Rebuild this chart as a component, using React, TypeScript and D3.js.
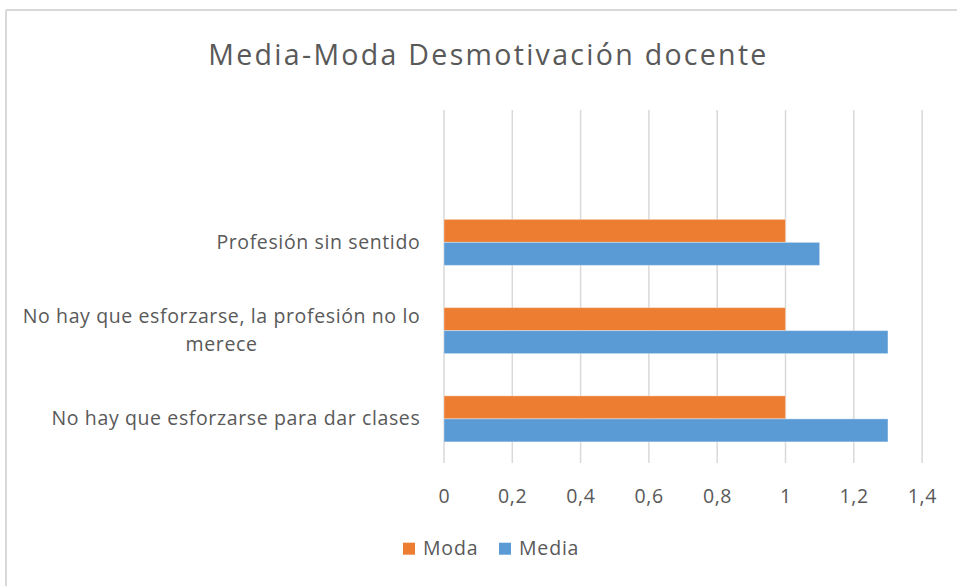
import React from "react";
import * as d3 from "d3";

const W = 957;
const H = 586;

const title = "Media-Moda Desmotivación docente";
// categories listed top to bottom (top slot is empty in the original)
const categories = [
  "",
  "Profesión sin sentido",
  "No hay que esforzarse, la profesión no lo merece",
  "No hay que esforzarse para dar clases",
];
const seriesNames = ["Moda", "Media"];
const modaValues: (number | null)[] = [null, 1, 1, 1];
const mediaValues: (number | null)[] = [null, 1.1, 1.3, 1.3];
const xTicks = [0, 0.2, 0.4, 0.6, 0.8, 1, 1.2, 1.4];
const colors = ["#ED7D31", "#5B9BD5"];

const FONT = "'Open Sans', 'Noto Sans', sans-serif";
const TEXT = "#595959";
const LABEL_SIZE = 19.5;
const LS = 0.62;

let ctx: CanvasRenderingContext2D | null = null;
function measure(s: string, size: number): number {
  if (!ctx) ctx = document.createElement("canvas").getContext("2d");
  if (!ctx) return s.length * size * 0.5;
  ctx.font = `${size}px 'Open Sans'`;
  return ctx.measureText(s).width + LS * s.length;
}

function wrap(s: string, maxW: number, size: number): string[] {
  const words = s.split(" ");
  const lines: string[] = [];
  let cur = "";
  for (const w of words) {
    const t = cur ? cur + " " + w : w;
    if (cur && measure(t, size) > maxW) {
      lines.push(cur);
      cur = w;
    } else cur = t;
  }
  if (cur) lines.push(cur);
  return lines;
}

export default function App() {
  const left = 444;
  const right = 444 + 1.4 * 341.5;
  const top = 110;
  const bottom = 463;

  const x = d3.scaleLinear().domain([0, 1.4]).range([left, right]);
  const y = d3.scaleBand<string>().domain(categories).range([top, bottom]).paddingInner(0).paddingOuter(0);
  const inner = d3
    .scaleBand<string>()
    .domain(seriesNames)
    .range([0, y.bandwidth()])
    .paddingInner(0)
    .paddingOuter(0.918);

  const series = [modaValues, mediaValues];
  const labelRight = 420;
  const lineH = 28.5;

  return (
    <svg
      width={W}
      height={H}
      style={{ position: "absolute", left: 0, top: 0, display: "block", background: "#fff" }}
      fontFamily={FONT}
    >
      <rect x={0} y={0} width={W} height={H} fill="#fff" />
      {/* chart border */}
      <line x1={6} y1={10} x2={W} y2={10} stroke="#d9d9d9" strokeWidth={2} />
      <line x1={6} y1={10} x2={6} y2={H} stroke="#d9d9d9" strokeWidth={2} />

      <text x={488.5} y={65} textAnchor="middle" fontSize={28.5} letterSpacing={2.3} fill={TEXT}>
        {title}
      </text>

      {/* gridlines */}
      {xTicks.map((t) => (
        <line key={t} x1={x(t)} x2={x(t)} y1={top} y2={bottom} stroke="#d9d9d9" strokeWidth={1.5} />
      ))}

      {/* bars */}
      {series.map((vals, si) =>
        categories.map((c, ci) => {
          const v = vals[ci];
          if (v == null) return null;
          return (
            <rect
              key={si + "-" + ci}
              x={x(0)}
              y={(y(c) as number) + (inner(seriesNames[si]) as number)}
              width={x(v) - x(0)}
              height={inner.bandwidth()}
              fill={colors[si]}
              stroke="#ffffff"
              strokeOpacity={0.35}
              strokeWidth={1}
            />
          );
        })
      )}

      {/* x tick labels */}
      {xTicks.map((t) => (
        <text key={t} x={x(t) + LS / 2} y={503} textAnchor="middle" fontSize={LABEL_SIZE} letterSpacing={LS} fill={TEXT}>
          {String(t).replace(".", ",")}
        </text>
      ))}

      {/* category labels */}
      {categories.map((c) => {
        if (!c) return null;
        const lines = wrap(c, 412, LABEL_SIZE);
        const maxW = Math.max(...lines.map((l) => measure(l, LABEL_SIZE)));
        const cx = labelRight - maxW / 2 + LS / 2;
        const cy = (y(c) as number) + y.bandwidth() / 2;
        const first = cy - ((lines.length - 1) * lineH) / 2 + 6.6;
        return (
          <text key={c} textAnchor="middle" fontSize={LABEL_SIZE} letterSpacing={LS} fill={TEXT}>
            {lines.map((l, i) => (
              <tspan key={i} x={cx} y={first + i * lineH}>
                {l}
              </tspan>
            ))}
          </text>
        );
      })}

      {/* legend */}
      {seriesNames.map((s, i) => {
        const lx = i === 0 ? 403 : 499;
        return (
          <g key={s}>
            <rect x={lx} y={542.7} width={12} height={12} fill={colors[i]} />
            <text x={lx + 20} y={555} fontSize={LABEL_SIZE} letterSpacing={LS + 0.2} fill={TEXT}>
              {s}
            </text>
          </g>
        );
      })}
    </svg>
  );
}
